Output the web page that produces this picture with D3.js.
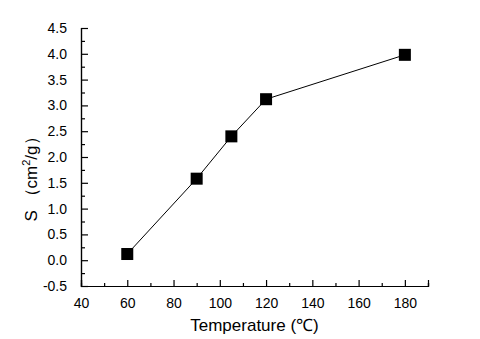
<!DOCTYPE html>
<html>
<head>
<meta charset="utf-8">
<script src="https://cdn.jsdelivr.net/npm/d3@7"></script>
<style>
	body { margin: 0; background: #fff; }
	text { font-family: "Liberation Sans", Arial, sans-serif; fill: #000; }
</style>
</head>
<body>
<div id="chart-area"></div>
<script>
// data
const temperature = [60, 90, 105, 120, 180];
const surface = [0.12, 1.58, 2.40, 3.12, 3.98];
const xTicks = [40, 60, 80, 100, 120, 140, 160, 180];
const yTicks = [-0.5, 0.0, 0.5, 1.0, 1.5, 2.0, 2.5, 3.0, 3.5, 4.0, 4.5];

var margin = {top: 28, right: 52, bottom: 53, left: 81};
let width = 480 - margin.left - margin.right,
	height = 339 - margin.top - margin.bottom;

var svg = d3.select("#chart-area").append("svg")
	.attr("width", 480)
	.attr("height", 339)
	.append("g")
	.attr("transform", "translate(" + margin.left + "," + margin.top + ")");

var x = d3.scaleLinear().domain([40, 190]).range([0, width]);
var y = d3.scaleLinear().domain([-0.5, 4.5]).range([height, 0]);

// minor ticks first, major ticks drawn over them
var xMinor = d3.axisBottom(x).tickValues(d3.range(50, 191, 20)).tickSize(-3).tickFormat("");
var yMinor = d3.axisLeft(y).tickValues(d3.range(-0.25, 4.5, 0.5)).tickSize(-4).tickFormat("");

svg.append("g").attr("class", "axis")
	.attr("transform", "translate(0," + height + ")")
	.call(xMinor);
svg.append("g").attr("class", "axis").call(yMinor);

var xAxis = d3.axisBottom(x).tickValues(xTicks).tickSize(-6).tickPadding(12).tickFormat(d3.format("d"));
var yAxis = d3.axisLeft(y).tickValues(yTicks).tickSize(-7).tickPadding(14)
	.tickFormat(d => d3.format(".1f")(d).replace("−", "-"));

svg.append("g").attr("class", "axis x-axis")
	.attr("transform", "translate(0," + height + ")")
	.call(xAxis);
svg.append("g").attr("class", "axis y-axis")
	.call(yAxis);

svg.selectAll(".axis path, .axis line")
	.attr("stroke", "#000")
	.attr("stroke-width", 1.2);
svg.selectAll(".axis text")
	.style("font-size", "14px")
	.attr("fill", "#000");

var line = d3.line()
	.x((d, i) => x(temperature[i]))
	.y(d => y(d));

svg.append("path")
	.datum(surface)
	.attr("d", line)
	.attr("fill", "none")
	.attr("stroke", "#000")
	.attr("stroke-width", 1);

svg.selectAll(".pt")
	.data(surface)
	.enter().append("rect")
	.attr("class", "pt")
	.attr("x", (d, i) => x(temperature[i]) - 6)
	.attr("y", d => y(d) - 6)
	.attr("width", 12)
	.attr("height", 12)
	.attr("fill", "#000");

svg.append("text")
	.attr("x", width / 2)
	.attr("y", height + 45)
	.attr("text-anchor", "middle")
	.style("font-size", "17px")
	.text("Temperature (℃)");

var yt = svg.append("text")
	.attr("transform", "translate(-44,147) rotate(-90)")
	.attr("text-anchor", "middle")
	.style("font-size", "17px");
yt.append("tspan").text("S （cm");
yt.append("tspan").attr("dy", -7).style("font-size", "11px").text("2");
yt.append("tspan").attr("dy", 7).text("/g）");
</script>
</body>
</html>
